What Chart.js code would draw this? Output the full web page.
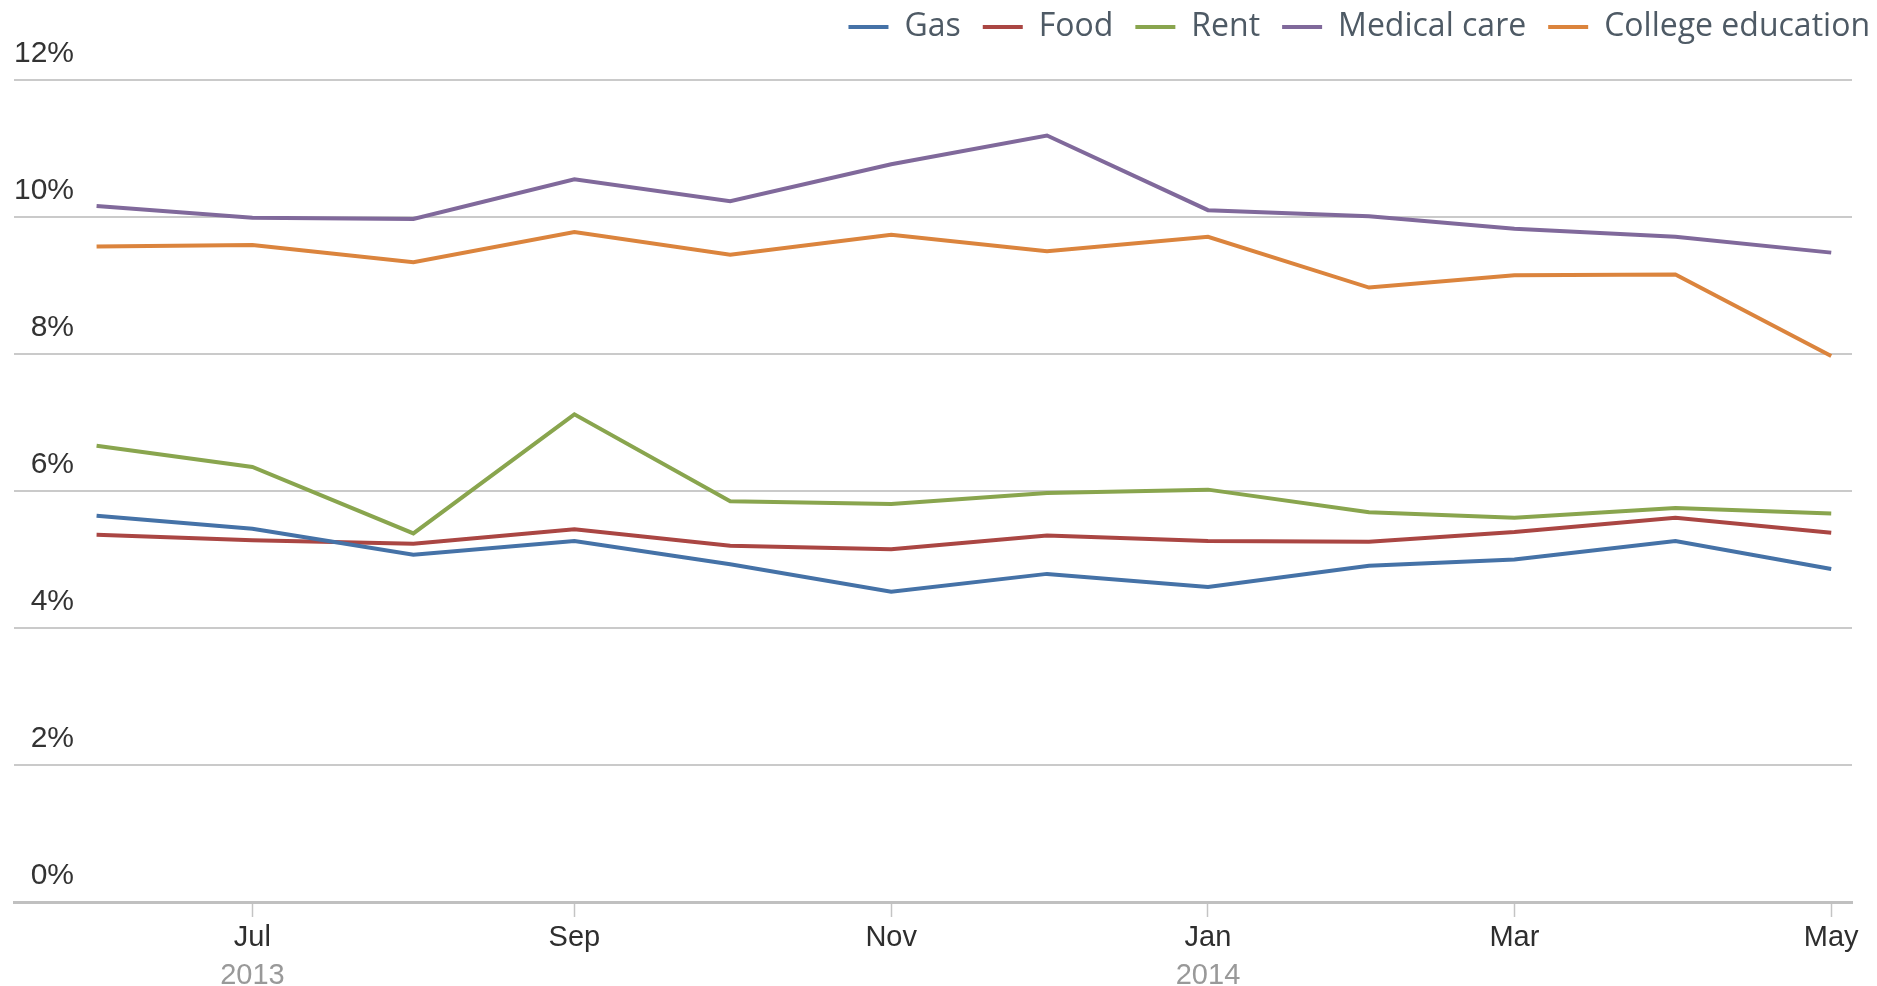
<!DOCTYPE html>
<html>
<head>
<meta charset="utf-8">
<script src="https://cdn.jsdelivr.net/npm/chart.js@4.4.1/dist/chart.umd.min.js"></script>
<style>
  html, body { margin: 0; padding: 0; background: #fff; }
  #wrap { width: 1877px; height: 986px; position: relative; }
</style>
</head>
<body>
<div id="wrap"><canvas id="chart"></canvas></div>
<script>
// monthly readings, Jun 2013 - May 2014
var months = ['2013-06', '2013-07', '2013-08', '2013-09', '2013-10', '2013-11',
              '2013-12', '2014-01', '2014-02', '2014-03', '2014-04', '2014-05'];

var gas      = [5.64, 5.45, 5.07, 5.27, 4.93, 4.53, 4.79, 4.60, 4.91, 5.00, 5.27, 4.86];
var food     = [5.36, 5.28, 5.23, 5.44, 5.20, 5.15, 5.35, 5.27, 5.26, 5.40, 5.61, 5.39];
var rent     = [6.66, 6.35, 5.38, 7.12, 5.85, 5.81, 5.97, 6.02, 5.69, 5.61, 5.75, 5.67];
var medical  = [10.16, 9.99, 9.97, 10.55, 10.23, 10.77, 11.19, 10.10, 10.01, 9.83, 9.71, 9.48];
var college  = [9.57, 9.59, 9.34, 9.78, 9.45, 9.74, 9.50, 9.71, 8.97, 9.15, 9.16, 7.97];

var tickMonths = ['2013-07', '2013-09', '2013-11', '2014-01', '2014-03', '2014-05'];
var tickLabels = ['Jul', 'Sep', 'Nov', 'Jan', 'Mar', 'May'];
var yearMonths = ['2013-07', '2014-01'];
var yearLabels = ['2013', '2014'];

var yTicks = [0, 2, 4, 6, 8, 10, 12];

// days since the first month, so the x axis is spaced like a real calendar
function dayOf(m) {
  var p = m.split('-');
  var start = months[0].split('-');
  return (Date.UTC(+p[0], +p[1] - 1, 1) - Date.UTC(+start[0], +start[1] - 1, 1)) / 86400000;
}

var xDays = months.map(dayOf);
var tickDays = tickMonths.map(dayOf);
var yearDays = yearMonths.map(dayOf);

function series(values) {
  return values.map(function (v, i) { return { x: xDays[i], y: v }; });
}

function line(label, values, color) {
  return {
    label: label,
    data: series(values),
    borderColor: color,
    backgroundColor: color,
    borderWidth: 4,
    pointRadius: 0,
    pointHoverRadius: 0,
    tension: 0,
    fill: false
  };
}

var X_MIN = -15.9, X_MAX = 338;

var chart = new Chart(document.getElementById('chart'), {
  type: 'line',
  data: {
    datasets: [
      line('Gas', gas, '#4572A7'),
      line('Food', food, '#AA4643'),
      line('Rent', rent, '#89A54E'),
      line('Medical care', medical, '#80699B'),
      line('College education', college, '#DB843D')
    ]
  },
  options: {
    responsive: true,
    maintainAspectRatio: false,
    animation: false,
    layout: { padding: { top: -11, left: 14, right: -15, bottom: -7 } },
    plugins: {
      tooltip: { enabled: false },
      legend: {
        position: 'top',
        align: 'end',
        labels: {
          usePointStyle: true,
          pointStyle: 'line',
          pointStyleWidth: 40,
          padding: 22,
          color: '#4E5A65',
          font: { family: '"Open Sans", "Noto Sans", sans-serif', size: 32 }
        }
      },
      // empty title used as a spacer between legend and plot
      title: {
        display: true,
        text: '',
        weight: 500,
        font: { size: 1, lineHeight: 1 },
        padding: { top: 0, bottom: 26 }
      }
    },
    scales: {
      x: {
        type: 'linear',
        position: 'bottom',
        min: X_MIN,
        max: X_MAX,
        afterBuildTicks: function (s) {
          s.ticks = tickDays.map(function (d) { return { value: d }; });
        },
        grid: {
          drawOnChartArea: false,
          drawTicks: true,
          tickLength: 15,
          tickColor: '#C4C4C4',
          tickWidth: 1.5
        },
        border: { display: true, color: '#C0C0C0', width: 3 },
        ticks: {
          padding: 6,
          maxRotation: 0,
          autoSkip: false,
          color: '#2E2E2E',
          font: { family: '"Liberation Sans", Arial, sans-serif', size: 29, lineHeight: 1 },
          callback: function (v, i) { return tickLabels[i]; }
        }
      },
      x2: {
        type: 'linear',
        position: 'bottom',
        min: X_MIN,
        max: X_MAX,
        afterBuildTicks: function (s) {
          s.ticks = yearDays.map(function (d) { return { value: d }; });
        },
        grid: { display: false, drawTicks: false },
        border: { display: false },
        ticks: {
          padding: 3,
          maxRotation: 0,
          autoSkip: false,
          color: '#999999',
          font: { family: '"Liberation Sans", Arial, sans-serif', size: 29, lineHeight: 1 },
          callback: function (v, i) { return yearLabels[i]; }
        }
      },
      y: {
        min: 0,
        max: 12,
        afterBuildTicks: function (s) {
          s.ticks = yTicks.map(function (v) { return { value: v }; });
        },
        grid: { color: '#CACACA', lineWidth: 2, drawTicks: false },
        border: { display: false },
        ticks: {
          mirror: true,
          crossAlign: 'far',
          padding: 0,
          labelOffset: -26,
          color: '#333333',
          font: { family: '"Liberation Sans", Arial, sans-serif', size: 30 },
          callback: function (v) { return v + '%'; }
        }
      },
      // keeps a strip free on the right, as in the original
      yRight: {
        position: 'right',
        display: true,
        grid: { display: false, drawTicks: false },
        border: { display: false },
        ticks: { display: false },
        afterFit: function (s) { s.width = 40; }
      }
    }
  }
});
</script>
</body>
</html>
